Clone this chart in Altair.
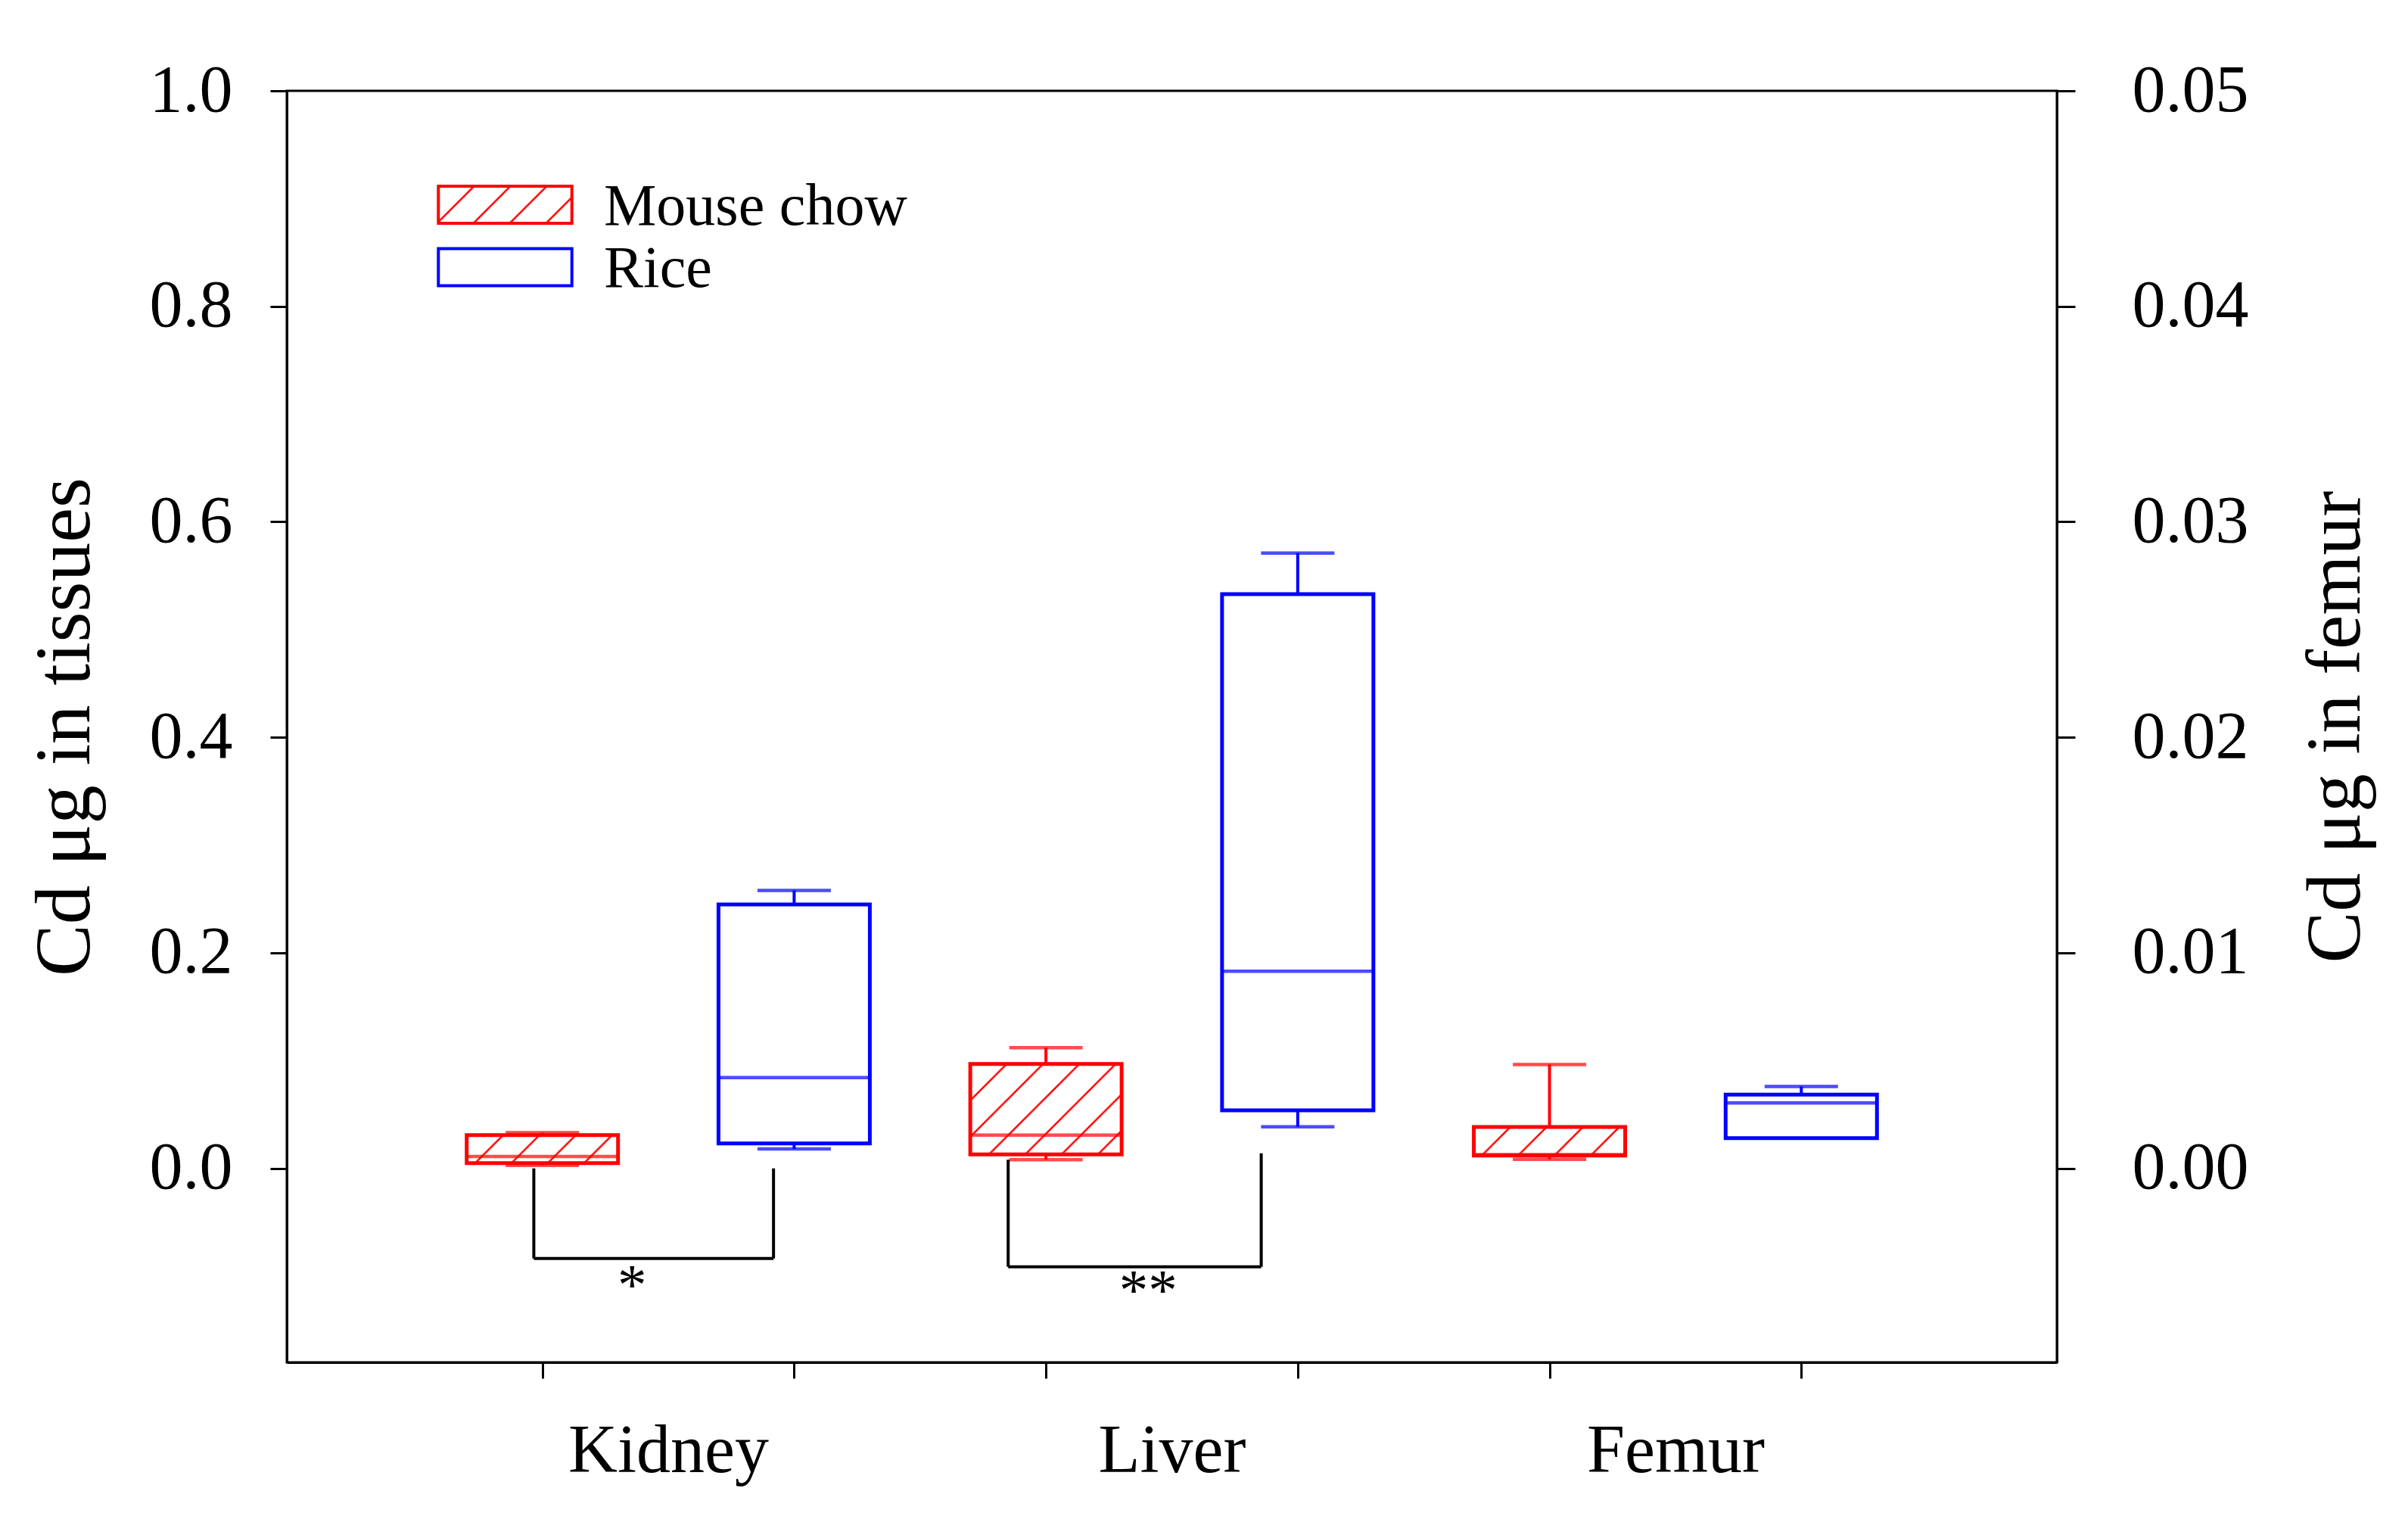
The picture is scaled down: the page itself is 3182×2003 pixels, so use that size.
import altair as alt
import pandas as pd
from urllib.parse import quote

# ---------------- data ----------------
diets = ["Mouse chow", "Rice"]

# Kidney & Liver (left axis, Cd ug in tissues)
t_tissue = ["Kidney", "Kidney", "Liver", "Liver"]
t_diet = ["Mouse chow", "Rice", "Mouse chow", "Rice"]
t_pos = [1, 2, 3, 4]
t_lo = [0.0028, 0.018, 0.0081, 0.0386]
t_q1 = [0.0049, 0.0232, 0.013, 0.0539]
t_med = [0.011, 0.0843, 0.0309, 0.183]
t_q3 = [0.0309, 0.245, 0.0969, 0.533]
t_hi = [0.0332, 0.258, 0.112, 0.571]

# Femur (right axis, Cd ug in femur)
f_tissue = ["Femur", "Femur"]
f_diet = ["Mouse chow", "Rice"]
f_pos = [5, 6]
f_lo = [0.00042, 0.0014]
f_q1 = [0.0006, 0.0014]
f_med = [0.00064, 0.00304]
f_q3 = [0.00192, 0.00342]
f_hi = [0.00482, 0.0038]

group_labels = ["Kidney", "Liver", "Femur"]
group_centers = [1.5, 3.5, 5.5]
box_positions = [1, 2, 3, 4, 5, 6]

left_ticks = [0.0, 0.2, 0.4, 0.6, 0.8, 1.0]
right_ticks = [0.0, 0.01, 0.02, 0.03, 0.04, 0.05]

# significance brackets (left axis units)
br_xl = [0.966, 2.85]
br_xr = [1.918, 3.855]
br_top_l = [0.0, 0.008]
br_top_r = [0.0, 0.014]
br_bottom = [-0.0836, -0.0913]
sig_text = ["*", "**"]
sig_x = [1.356, 3.406]
sig_y = [-0.104, -0.109]

# ---------------- tables ----------------
tissue_df = pd.DataFrame(dict(tissue=t_tissue, diet=t_diet, pos=t_pos, lo=t_lo,
                              q1=t_q1, med=t_med, q3=t_q3, hi=t_hi))
femur_df = pd.DataFrame(dict(tissue=f_tissue, diet=f_diet, pos=f_pos, lo=f_lo,
                             q1=f_q1, med=f_med, q3=f_q3, hi=f_hi))
br_df = pd.DataFrame(dict(xl=br_xl, xr=br_xr, tl=br_top_l, tr=br_top_r, yb=br_bottom))
sig_df = pd.DataFrame(dict(x=sig_x, y=sig_y, t=sig_text))
legend_df = pd.DataFrame(dict(diet=diets))

FONT = "Liberation Serif"
RED = "#ff0000"
BLUE = "#0000ff"

hatch_svg = (
    "<svg xmlns='http://www.w3.org/2000/svg' width='100%' height='100%'>"
    "<defs><pattern id='h' patternUnits='userSpaceOnUse' width='48' height='48'>"
    "<path d='M-12,12 L12,-12 M0,48 L48,0 M36,60 L60,36' stroke='#ff0000' "
    "stroke-width='2.5' fill='none'/></pattern></defs>"
    "<rect x='0' y='0' width='100%' height='100%' fill='url(#h)'/></svg>"
)
hatch_url = "data:image/svg+xml;charset=utf-8," + quote(hatch_svg)

label_expr = " : ".join(
    f"datum.value == {c} ? '{l}'" for c, l in zip(group_centers, group_labels)
) + " : ''"

x_scale = alt.Scale(domain=[0, 7], nice=False, zero=False)
x_axis = alt.Axis(
    title=None, values=sorted(box_positions + group_centers), labelExpr=label_expr,
    tickOpacity={"condition": {"test": "datum.value % 1 != 0", "value": 0}, "value": 1},
    tickSize=21, tickWidth=3, domainWidth=3, labelFontSize=90, labelPadding=52,
    labelOverlap=False, labelBound=False, labelFlush=False, labelLimit=2000, grid=False,
)

left_scale = alt.Scale(domain=[-0.18, 1.0], nice=False, zero=False)
left_axis = alt.Axis(
    title="Cd μg in tissues", values=left_ticks, format=".1f", orient="left",
    tickSize=22, tickWidth=3, domainWidth=3, labelFontSize=88, labelPadding=50,
    titleFontSize=103, titleFontWeight="normal", titlePadding=58, grid=False,
)
right_scale = alt.Scale(domain=[-0.009, 0.05], nice=False, zero=False)
right_axis = alt.Axis(
    title="Cd μg in femur", values=right_ticks, format=".2f", orient="right",
    tickSize=24, tickWidth=3, domainWidth=3, labelFontSize=88, labelPadding=75,
    titleFontSize=102, titleFontWeight="normal", titlePadding=118,
    titleAngle=270, titleBaseline="top", grid=False,
)

color_scale = alt.Scale(domain=diets, range=[RED, BLUE])
rect_path = "M-3.6,-1H3.6V1H-3.6Z"


def box_layers(df, scale, axis):
    base = alt.Chart(df)
    X = alt.X("pos:Q", scale=x_scale, axis=x_axis)

    def Y(f):
        return alt.Y(f"{f}:Q", scale=scale, axis=axis)

    col = alt.Color("diet:N", scale=color_scale, legend=None)
    whisk = base.mark_rule(strokeWidth=4).encode(x=X, y=Y("lo"), y2="hi:Q", color=col)
    cap_hi = base.mark_tick(orient="horizontal", size=97, thickness=4.5).encode(x=X, y=Y("hi"), color=col)
    cap_lo = base.mark_tick(orient="horizontal", size=97, thickness=4.5).encode(x=X, y=Y("lo"), color=col)
    fill = base.mark_bar(size=200, color="white").encode(x=X, y=Y("q1"), y2="q3:Q")
    hatch = (
        base.transform_filter(alt.datum.diet == diets[0])
        .transform_calculate(xl="datum.pos - 0.3", xr="datum.pos + 0.3")
        .mark_image(aspect=False)
        .encode(x=alt.X("xl:Q", scale=x_scale, axis=x_axis), x2="xr:Q",
                y=Y("q3"), y2="q1:Q", url=alt.value(hatch_url))
    )
    outline = base.mark_bar(size=200, filled=False, strokeWidth=5).encode(
        x=X, y=Y("q1"), y2="q3:Q", color=col)
    median = base.mark_tick(orient="horizontal", size=200, thickness=4.5).encode(
        x=X, y=Y("med"), color=col)
    return [whisk, cap_hi, cap_lo, fill, hatch, outline, median]


bb = alt.Chart(br_df)
br_left = bb.mark_rule(color="black", strokeWidth=4).encode(
    x=alt.X("xl:Q", scale=x_scale, axis=x_axis),
    y=alt.Y("tl:Q", scale=left_scale, axis=left_axis), y2="yb:Q")
br_right = bb.mark_rule(color="black", strokeWidth=4).encode(
    x=alt.X("xr:Q", scale=x_scale, axis=x_axis),
    y=alt.Y("tr:Q", scale=left_scale, axis=left_axis), y2="yb:Q")
br_bar = bb.mark_rule(color="black", strokeWidth=4).encode(
    x=alt.X("xl:Q", scale=x_scale, axis=x_axis), x2="xr:Q",
    y=alt.Y("yb:Q", scale=left_scale, axis=left_axis))
stars = alt.Chart(sig_df).mark_text(font=FONT, fontSize=77, color="black",
                                    baseline="middle", dy=8).encode(
    x=alt.X("x:Q", scale=x_scale, axis=x_axis),
    y=alt.Y("y:Q", scale=left_scale, axis=left_axis), text="t:N")

# ---- legend (top-left, inside the frame) ----
leg_base = alt.Chart(legend_df)
leg_y = alt.Y("diet:N", scale=alt.Scale(type="point", domain=diets, range=[150.5, 233], padding=0),
              axis=None)
leg_hatch = leg_base.transform_filter(alt.datum.diet == diets[0]).mark_image(
    width=178, height=49, aspect=False).encode(
    x=alt.value(288.5), y=leg_y, url=alt.value(hatch_url))
leg_box = leg_base.mark_point(shape=rect_path, size=2401, filled=False, strokeWidth=4,
                              opacity=1).encode(
    x=alt.value(288.5), y=leg_y,
    color=alt.Color("diet:N", scale=color_scale, legend=None))
leg_text = leg_base.mark_text(font=FONT, fontSize=78, color="black", align="left",
                              baseline="alphabetic", dy=26).encode(
    x=alt.value(419), y=leg_y, text="diet:N")

left_group = alt.layer(*box_layers(tissue_df, left_scale, left_axis),
                       br_left, br_right, br_bar, stars)
right_group = alt.layer(*box_layers(femur_df, right_scale, right_axis))
legend_group = alt.layer(leg_hatch, leg_box, leg_text)

chart = (
    alt.layer(left_group, right_group, legend_group)
    .resolve_scale(y="independent")
    .properties(
        width=2339, height=1680,
        padding={"left": 371, "top": 112, "right": 440, "bottom": 190},
        autosize=alt.AutoSizeParams(type="none"),
        background="white",
    )
    .configure_view(stroke="black", strokeWidth=3)
    .configure_axis(labelFont=FONT, titleFont=FONT, labelColor="black", titleColor="black",
                    domainColor="black", tickColor="black")
)

chart.save("out.html", embed_options={"renderer": "svg", "actions": False})
